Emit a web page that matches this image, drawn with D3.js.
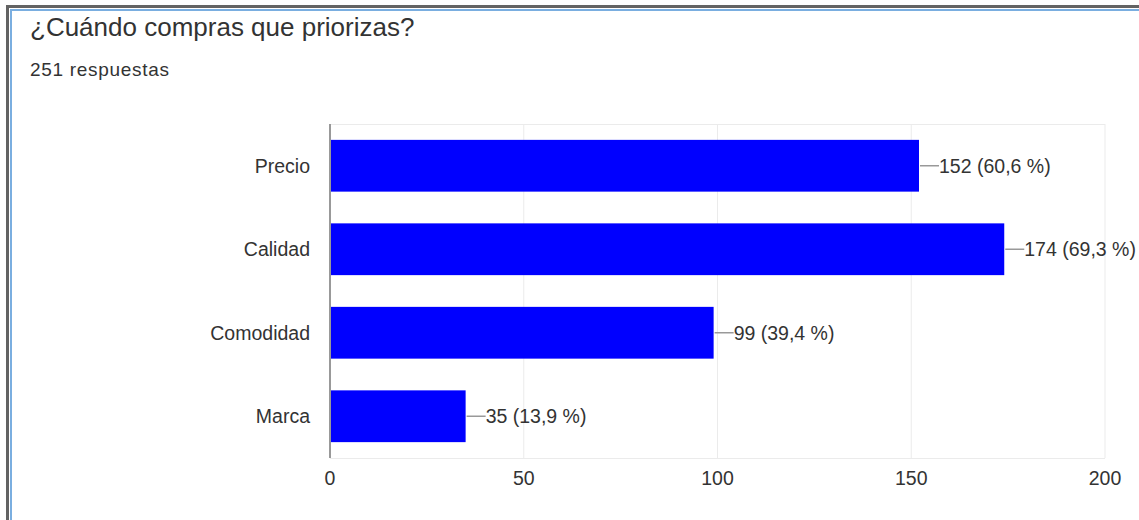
<!DOCTYPE html>
<html>
<head>
<meta charset="utf-8">
<script src="https://cdn.jsdelivr.net/npm/d3@7"></script>
<style>
  body { margin: 0; background: #fff; }
  svg { display: block; font-family: "Liberation Sans", Arial, sans-serif; }
</style>
</head>
<body>
<div id="chart"></div>
<script>
var categories = ["Precio", "Calidad", "Comodidad", "Marca"];
var counts = [152, 174, 99, 35];
var percents = ["60,6", "69,3", "39,4", "13,9"];
var xTicks = [0, 50, 100, 150, 200];
var title = "¿Cuándo compras que priorizas?";
var subtitle = "251 respuestas";

var W = 1139, H = 520;
var svg = d3.select("#chart").append("svg")
  .attr("width", W)
  .attr("height", H);

// frame
svg.append("rect")
  .attr("x", 7.5).attr("y", 6.5)
  .attr("width", W).attr("height", H)
  .attr("fill", "none")
  .attr("stroke", "#636363")
  .attr("stroke-width", 3);
svg.append("rect")
  .attr("x", 11).attr("y", 10)
  .attr("width", W).attr("height", H)
  .attr("fill", "none")
  .attr("stroke", "#7aaee0")
  .attr("stroke-width", 2);

svg.append("text")
  .attr("x", 30).attr("y", 36)
  .attr("font-size", 26)
  .attr("fill", "#333")
  .text(title);
svg.append("text")
  .attr("x", 30).attr("y", 76)
  .attr("font-size", 19)
  .attr("letter-spacing", 0.7)
  .attr("fill", "#333")
  .text(subtitle);

var x = d3.scaleLinear().domain([0, 200]).range([330, 1105]);
var y = d3.scaleBand().domain(categories).range([124, 458]).paddingInner(0.38).paddingOuter(0.19);

// grid
svg.selectAll(".grid")
  .data(xTicks.slice(1))
  .enter()
  .append("line")
  .attr("x1", function(d){ return x(d); })
  .attr("x2", function(d){ return x(d); })
  .attr("y1", 124).attr("y2", 458)
  .attr("stroke", "#ebebeb")
  .attr("stroke-width", 1);
svg.append("line")
  .attr("x1", x(0)).attr("x2", x(200))
  .attr("y1", 124.5).attr("y2", 124.5)
  .attr("stroke", "#ebebeb");
svg.append("line")
  .attr("x1", x(0)).attr("x2", x(200))
  .attr("y1", 458.5).attr("y2", 458.5)
  .attr("stroke", "#ebebeb");

// bars
svg.selectAll(".bar")
  .data(counts)
  .enter()
  .append("rect")
  .attr("x", x(0))
  .attr("y", function(d, i){ return y(categories[i]); })
  .attr("width", function(d){ return x(d) - x(0); })
  .attr("height", y.bandwidth())
  .attr("fill", "#0000ff");

// axis line
svg.append("line")
  .attr("x1", x(0)).attr("x2", x(0))
  .attr("y1", 124).attr("y2", 458)
  .attr("stroke", "#999")
  .attr("stroke-width", 2);

// category labels
svg.selectAll(".cat")
  .data(categories)
  .enter()
  .append("text")
  .attr("x", 310)
  .attr("y", function(d){ return y(d) + y.bandwidth() / 2; })
  .attr("dy", "0.35em")
  .attr("text-anchor", "end")
  .attr("font-size", 19.5)
  .attr("fill", "#333")
  .text(function(d){ return d; });

// leader lines + value labels
svg.selectAll(".lead")
  .data(counts)
  .enter()
  .append("line")
  .attr("x1", function(d){ return x(d) + 1; })
  .attr("x2", function(d){ return x(d) + 20; })
  .attr("y1", function(d, i){ return y(categories[i]) + y.bandwidth() / 2; })
  .attr("y2", function(d, i){ return y(categories[i]) + y.bandwidth() / 2; })
  .attr("stroke", "#999")
  .attr("stroke-width", 1.5);

svg.selectAll(".val")
  .data(counts)
  .enter()
  .append("text")
  .attr("x", function(d){ return x(d) + 20; })
  .attr("y", function(d, i){ return y(categories[i]) + y.bandwidth() / 2; })
  .attr("dy", "0.35em")
  .attr("font-size", 19.5)
  .attr("fill", "#333")
  .text(function(d, i){ return d + " (" + percents[i] + " %)"; });

// x tick labels
svg.selectAll(".tick")
  .data(xTicks)
  .enter()
  .append("text")
  .attr("x", function(d){ return x(d); })
  .attr("y", 485)
  .attr("text-anchor", "middle")
  .attr("font-size", 19.5)
  .attr("fill", "#333")
  .text(function(d){ return d; });
</script>
</body>
</html>
